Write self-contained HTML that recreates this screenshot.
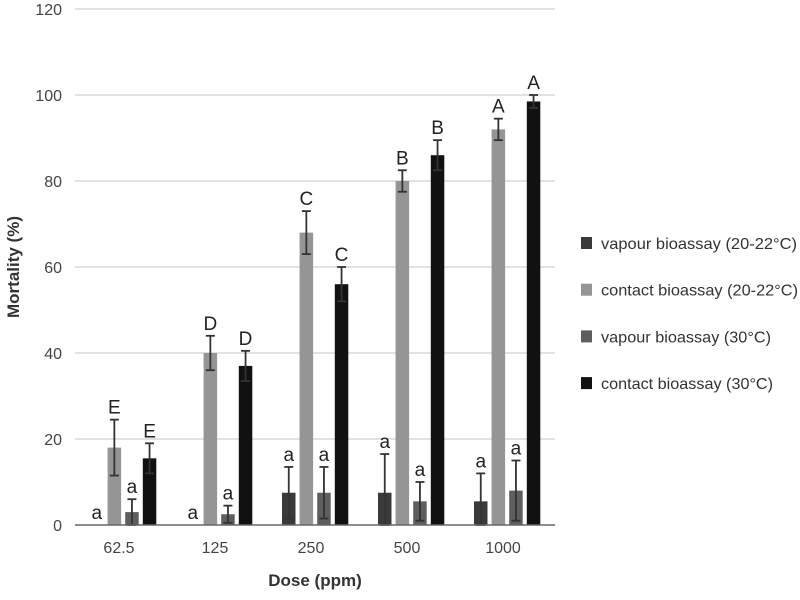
<!DOCTYPE html>
<html><head><meta charset="utf-8"><style>
body{margin:0;background:#fff}
svg{display:block;font-family:"Liberation Sans",sans-serif}
</style></head><body>
<svg id="chart" width="800" height="600">
<g id="grid"></g>
<g id="bars"></g>
<g id="axes"></g>
<text x="19" y="267" transform="rotate(-90 19 267)" text-anchor="middle" font-size="17" font-weight="bold" fill="#333">Mortality (%)</text>
<text x="315" y="586" text-anchor="middle" font-size="17" font-weight="bold" fill="#333">Dose (ppm)</text>
<g id="legend"></g>
</svg>
<script>
const categories=["62.5","125","250","500","1000"];
const seriesNames=["vapour bioassay (20-22°C)","contact bioassay (20-22°C)","vapour bioassay (30°C)","contact bioassay (30°C)"];
const vapour2022=[0,0,7.5,7.5,5.5];
const contact2022=[18,40,68,80,92];
const vapour30=[3,2.5,7.5,5.5,8];
const contact30=[15.5,37,56,86,98.5];
const errV2022=[0,0,6,9,6.5];
const errC2022=[6.5,4,5,2.5,2.5];
const errV30=[3,2,6,4.5,7];
const errC30=[3.5,3.5,4,3.5,1.5];
const lettersV2022=["a","a","a","a","a"];
const lettersC2022=["E","D","C","B","A"];
const lettersV30=["a","a","a","a","a"];
const lettersC30=["E","D","C","B","A"];
const yTicks=[0,20,40,60,80,100,120];

const NS="http://www.w3.org/2000/svg";
const colors=["#3a3a3a","#959595","#5e5e5e","#111111"];
const series=[vapour2022,contact2022,vapour30,contact30];
const errs=[errV2022,errC2022,errV30,errC30];
const letters=[lettersV2022,lettersC2022,lettersV30,lettersC30];
const x0=75,x1=555,yb=525,yt=9;
const yScale=v=>yb-(v/120)*(yb-yt);
const band=(x1-x0)/categories.length;
const xCenter=i=>x0+band*(i+0.5);
function el(t,a,p){const e=document.createElementNS(NS,t);for(const k in a)e.setAttribute(k,a[k]);p.appendChild(e);return e;}
const grid=document.getElementById('grid'),axes=document.getElementById('axes'),bars=document.getElementById('bars'),legend=document.getElementById('legend');
yTicks.forEach(t=>{
  const y=yScale(t);
  if(t>0){const l=el('line',{x1:x0,x2:x1,y1:y,y2:y,stroke:'#d0d0d0','stroke-width':1.3},grid);
  
  }
  const tx=el('text',{x:62,y:y+6,'text-anchor':'end','font-size':16,fill:'#444'},axes);tx.textContent=t;
  
  
});
const ax=el('line',{x1:x0,x2:x1,y1:yb,y2:yb,stroke:'#666','stroke-width':1.5},axes);


categories.forEach((c,i)=>{
  const tx=el('text',{x:xCenter(i)-4,y:553,'text-anchor':'middle','font-size':16,fill:'#444'},axes);tx.textContent=c;
  
  
});
const bw=13.5,pitch=17.6;
categories.forEach((c,i)=>{
  series.forEach((s,j)=>{
    const v=s[i],xs=xCenter(i)-33+pitch*j,cx=xs+bw/2;
    if(v>0){const r=el('rect',{x:xs,y:yScale(v),width:bw,height:yb-yScale(v),fill:colors[j]},bars);
    
    }
    let top=yScale(v);
    const e=errs[j][i];
    if(e>0){
      const yh=yScale(v+e),yl=yScale(Math.max(0,v-e));
      const g=el('g',{stroke:'#333','stroke-width':1.8},bars);
      
      
      el('line',{x1:cx,x2:cx,y1:yh,y2:yl},g);
      el('line',{x1:cx-4.5,x2:cx+4.5,y1:yh,y2:yh},g);
      el('line',{x1:cx-4.5,x2:cx+4.5,y1:yl,y2:yl},g);
      top=yh;
    }
    const lt=el('text',{x:cx,y:top-6,'text-anchor':'middle','font-size':19,fill:'#222'},bars);lt.textContent=letters[j][i];
    
    
  });
});
seriesNames.forEach((n,j)=>{
  const y=243+46.7*j;
  const r=el('rect',{x:581,y:y-6,width:11,height:12,fill:colors[j]},legend);
  
  
  const t=el('text',{x:601,y:y+6,'font-size':16,fill:'#333',textLength:j%2==0&&j==0?196:(j==1?197:(j==2?170:172)),lengthAdjust:'spacingAndGlyphs'},legend);t.textContent=n;
  
  
});
</script>
</body></html>
